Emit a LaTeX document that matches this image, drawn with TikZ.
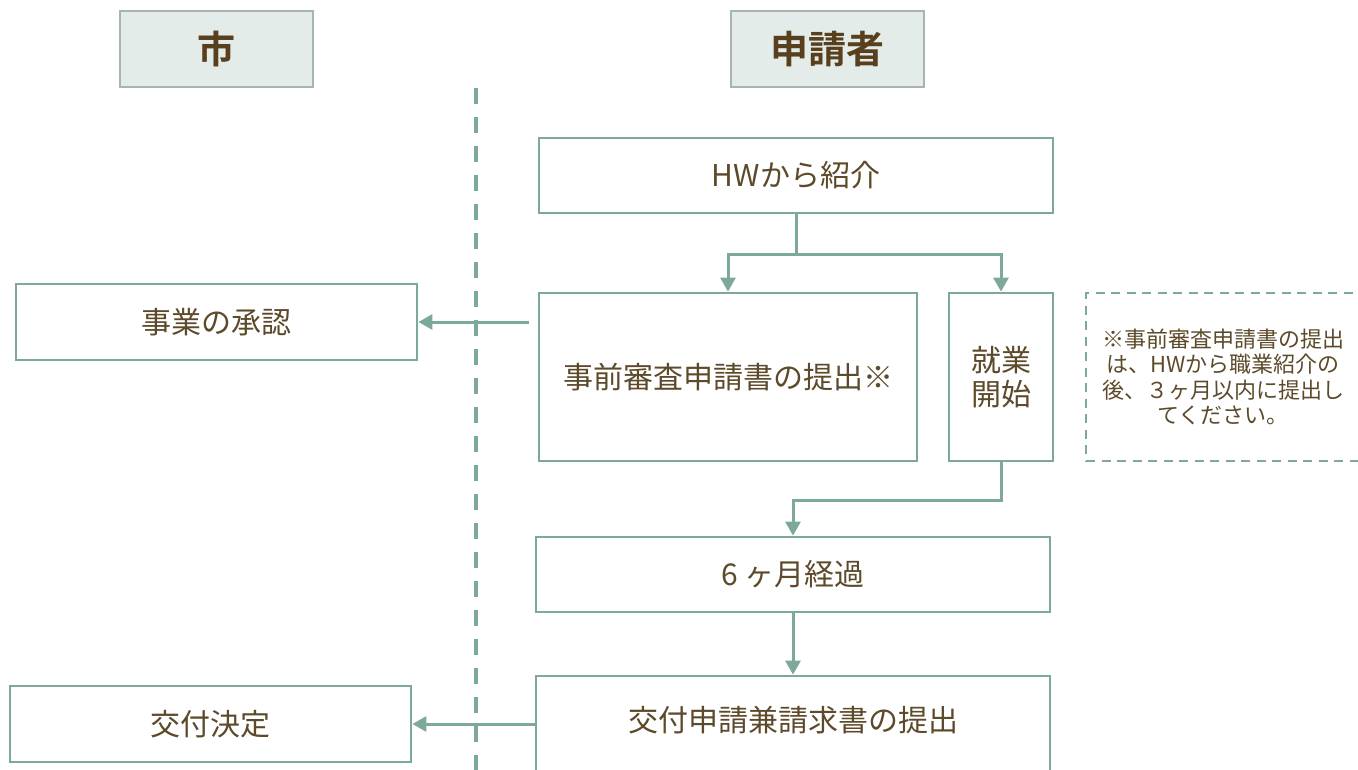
\documentclass[tikz,border=0pt]{standalone}
\usepackage{fontspec}
\setmainfont{Noto Sans CJK JP}[BoldFont={Noto Sans CJK JP Bold}]
\usepackage{tikz}
\usetikzlibrary{arrows.meta,calc}
\definecolor{ink}{RGB}{92,74,42}
\definecolor{headink}{RGB}{88,64,30}
\definecolor{flowline}{RGB}{125,169,156}
\definecolor{headfill}{RGB}{228,236,233}
\definecolor{headdraw}{RGB}{168,180,178}
\newcommand{\bodysize}{\fontsize{30}{34}\selectfont}
\newcommand{\notesize}{\fontsize{22}{25.5}\selectfont}
\tikzset{
    common/.style={draw, rectangle, inner sep=0pt},
    box/.style={common, draw=flowline, line width=2.8pt, fill=white, text=ink, font=\bodysize},
    head/.style={common, draw=headdraw, line width=2.8pt, fill=headfill, text=headink,
        font=\fontsize{38}{42}\selectfont\bfseries, minimum width=193pt, minimum height=76pt},
    notebox/.style={common, draw=flowline, line width=2.8pt, dash pattern=on 9pt off 6.5pt,
        text=ink, font=\notesize, align=center},
    line/.style={draw=flowline, line width=3pt},
    flow/.style={line, -{Triangle[length=14pt,width=15pt]}},
    divider/.style={draw=flowline, line width=4pt, dash pattern=on 16pt off 13pt}
}

\begin{document}
\begin{tikzpicture}[x=1pt, y=-1pt]
        \useasboundingbox (0,0) rectangle (1358,769);

        % headers
        \node[head] (city) at (216.5,49) {市};
        \node[head] (applicant) at (827.5,49) {申請者};

        \draw[divider] (476,88) -- (476,780);

        % applicant side
        \node[box, minimum width=514pt, minimum height=75pt] (hw) at (796,175.5) {HWから紹介};
        \node[box, minimum width=378pt, minimum height=168pt] (prior) at (728,377) {事前審査申請書の提出※};
        \node[box, minimum width=104pt, minimum height=168pt, align=center] (work) at (1001,377) {就業\\開始};
        \node[notebox, minimum width=274pt, minimum height=168pt] (note) at (1223,377)
            {※事前審査申請書の提出\\は、HWから職業紹介の\\後、３ヶ月以内に提出し\\てください。};
        \node[box, minimum width=514pt, minimum height=75pt] (six) at (793,574.5) {6 ヶ月経過};
        \node[box, minimum width=514pt, minimum height=104pt, text height=26pt, text depth=19pt]
            (apply) at (793,728) {交付申請兼請求書の提出};

        % city side
        \node[box, minimum width=401pt, minimum height=76pt] (approve) at (216.5,322) {事業の承認};
        \node[box, minimum width=401pt, minimum height=76pt] (decide) at (210.5,724) {交付決定};

        \draw[line] (hw.south) -- ++(0,40) coordinate (fork);
        \draw[flow] (fork) -| (prior.north);
        \draw[flow] (fork) -| (work.north);
        \draw[flow] (work.south) -- ++(0,38) -| (six.north);
        \draw[flow] (six.south) -- (apply.north);

        \draw[flow] ($(prior.west |- approve.east)+(-9,0)$) -- (approve.east);
        \draw[flow] (apply.west |- decide.east) -- (decide.east);

    \end{tikzpicture}
\end{document}
